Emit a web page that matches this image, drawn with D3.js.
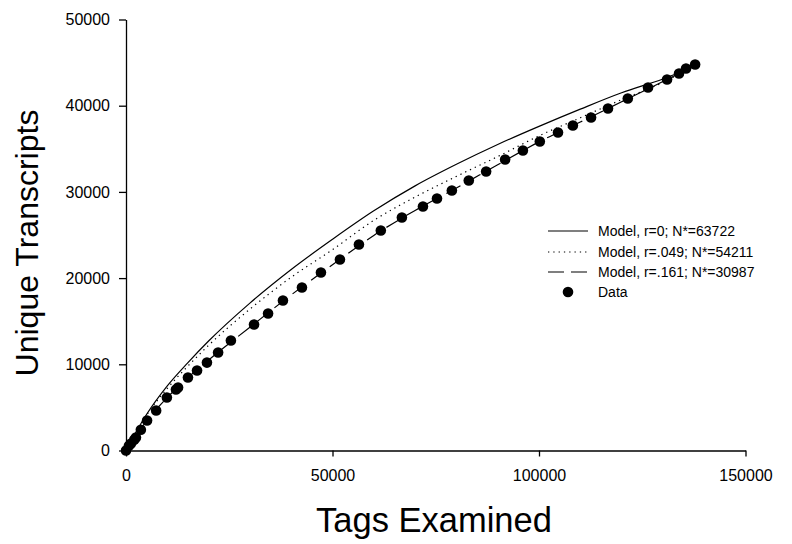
<!DOCTYPE html>
<html>
<head>
<meta charset="utf-8">
<script src="https://d3js.org/d3.v7.min.js"></script>
<style>
  html, body { margin: 0; padding: 0; background: #fff; }
  svg { display: block; }
  text { font-family: Arial, "Liberation Sans", sans-serif; fill: #000; }
</style>
</head>
<body>
<svg id="chart" width="792" height="544"></svg>
<script>
// ---- Data ----
const xTicks = [0, 50000, 100000, 150000];
const yTicks = [0, 10000, 20000, 30000, 40000, 50000];

// Model curves sampled at these tag counts
const modelX = [0, 2500, 5000, 10000, 15000, 20000, 30000, 40000, 50000, 60000, 70000, 80000, 90000, 100000, 110000, 120000, 130000, 138000];
const modelR0 = [0, 2200, 4200, 7500, 10200, 12700, 17100, 21000, 24500, 27800, 30700, 33200, 35500, 37600, 39600, 41500, 43100, 44600];
const modelR049 = [0, 2150, 4100, 7200, 9800, 12200, 16400, 20100, 23300, 26700, 29400, 31800, 34100, 36500, 38600, 40700, 42700, 44700];
const modelR161 = [0, 1750, 3450, 6150, 8450, 10500, 14300, 18050, 21550, 24950, 27850, 30450, 33150, 35800, 38100, 40450, 42800, 44750];

// Observed data points
const dataX = [0, 700, 1200, 2000, 2400, 3600, 5100, 7300, 9900, 12100, 12600, 15000, 17200, 19600, 22300, 25400, 31000, 34400, 38000, 42600, 47200, 51800, 56400, 61700, 66800, 71900, 75300, 78900, 83000, 87200, 91800, 96100, 100200, 104600, 108200, 112600, 116700, 121500, 126400, 131000, 133900, 135600, 137800];
const dataY = [0, 550, 800, 1250, 1500, 2400, 3480, 4640, 6150, 7080, 7300, 8470, 9280, 10200, 11370, 12760, 14620, 15890, 17400, 18910, 20650, 22160, 23900, 25520, 27030, 28300, 29230, 30160, 31320, 32360, 33760, 34800, 35840, 36890, 37700, 38630, 39670, 40830, 42110, 43040, 43730, 44310, 44780];

const legendLabels = ["Model, r=0; N*=63722", "Model, r=.049; N*=54211", "Model, r=.161; N*=30987", "Data"];

// ---- Chart ----
const svg = d3.select("#chart");
svg.append("rect").attr("width", 792).attr("height", 544).attr("fill", "#fff");

const x = d3.scaleLinear().domain([0, 150000]).range([126, 745.5]);
const y = d3.scaleLinear().domain([0, 50000]).range([450.5, 19.5]);

const gx = svg.append("g").attr("transform", `translate(0,${y(0)})`)
  .call(d3.axisBottom(x).tickValues(xTicks).tickSize(6).tickSizeOuter(0).tickPadding(13).tickFormat(d3.format("d")));
const gy = svg.append("g").attr("transform", `translate(${x(0)},0)`)
  .call(d3.axisLeft(y).tickValues(yTicks).tickSize(7).tickSizeOuter(0).tickPadding(9).tickFormat(d3.format("d")));
[gx, gy].forEach(g => {
  g.selectAll("path.domain").attr("stroke", "#000").attr("stroke-width", 1.3);
  g.selectAll(".tick line").attr("stroke", "#000").attr("stroke-width", 1.3);
  g.selectAll(".tick text").attr("font-size", 16).attr("font-family", "Arial, 'Liberation Sans', sans-serif").attr("fill", "#000");
});

const line = d3.line().x(d => x(d[0])).y(d => y(d[1])).curve(d3.curveMonotoneX);

const series = [
  { vals: modelR0, dash: null },
  { vals: modelR049, dash: "1.3,4" },
  { vals: modelR161, dash: "16,7" }
];
series.forEach(s => {
  svg.append("path")
    .datum(modelX.map((v, i) => [v, s.vals[i]]))
    .attr("d", line)
    .attr("fill", "none")
    .attr("stroke", "#000")
    .attr("stroke-width", 1.2)
    .attr("stroke-dasharray", s.dash);
});

svg.append("g").selectAll("circle")
  .data(dataX.map((v, i) => [v, dataY[i]]))
  .join("circle")
  .attr("cx", d => x(d[0]))
  .attr("cy", d => y(d[1]))
  .attr("r", 5.3)
  .attr("fill", "#000");

// Axis titles
svg.append("text")
  .attr("x", 434).attr("y", 532)
  .attr("text-anchor", "middle")
  .attr("font-size", 34.5)
  .text("Tags Examined");
svg.append("text")
  .attr("transform", "translate(38,243) rotate(-90)")
  .attr("text-anchor", "middle")
  .attr("font-size", 32)
  .text("Unique Transcripts");

// Legend
const legY = [231, 252, 272, 292];
const leg = svg.append("g");
legendLabels.forEach((lab, i) => {
  const yy = legY[i];
  if (i < 3) {
    leg.append("line")
      .attr("x1", 548).attr("x2", 588).attr("y1", yy).attr("y2", yy)
      .attr("stroke", "#000").attr("stroke-width", 1.2)
      .attr("stroke-dasharray", series[i].dash);
  } else {
    leg.append("circle").attr("cx", 568).attr("cy", yy).attr("r", 5.3).attr("fill", "#000");
  }
  leg.append("text")
    .attr("x", 598).attr("y", yy).attr("dy", "0.35em")
    .attr("font-size", 14)
    .text(lab);
});
</script>
</body>
</html>
